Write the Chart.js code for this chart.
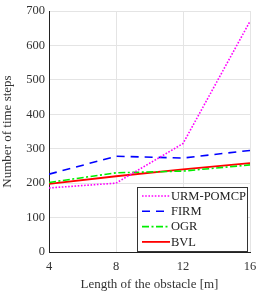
<!DOCTYPE html>
<html><head><meta charset="utf-8">
<script src="https://cdn.jsdelivr.net/npm/chart.js@4"></script>
<style>html,body{margin:0;padding:0;background:#fff}#w{width:259px;height:292px}</style>
</head><body><div id="w"><canvas id="c"></canvas></div>
<script>
const categories = [4, 8, 12, 16];
const urmPomcp = [186, 200, 315, 670];
const firm = [226, 278, 273, 295];
const ogr = [202, 230, 235, 253];
const bvl = [198, 220, 240, 258];
const yTicks = [0, 100, 200, 300, 400, 500, 600, 700];
const seriesNames = ['URM-POMCP', 'FIRM', 'OGR', 'BVL'];

const FONT = "'Liberation Serif', 'DejaVu Serif', serif";
const mk = (vals) => categories.map((x, i) => ({x, y: vals[i]}));

const legendBox = {
  id: 'legendBox',
  afterDraw(chart) {
    const {ctx, chartArea} = chart;
    const w = 110, h = 64;
    const x0 = chartArea.right - w - 3, y0 = chartArea.bottom - h - 1;
    ctx.save();
    ctx.fillStyle = '#fff';
    ctx.fillRect(x0, y0, w, h);
    ctx.strokeStyle = '#333';
    ctx.lineWidth = 1;
    ctx.strokeRect(x0 + 0.5, y0 + 0.5, w, h);
    ctx.font = "12.5px " + FONT;
    ctx.textBaseline = 'middle';
    chart.data.datasets.forEach((ds, i) => {
      const y = y0 + 9 + i * 15.3;
      ctx.beginPath();
      ctx.setLineDash(ds.borderDash || []);
      ctx.strokeStyle = ds.borderColor;
      ctx.lineWidth = ds.borderWidth;
      ctx.moveTo(x0 + 5, y);
      ctx.lineTo(x0 + 33, y);
      ctx.stroke();
      ctx.setLineDash([]);
      ctx.fillStyle = '#222';
      ctx.fillText(ds.label, x0 + 34, y + 0.5);
    });
    ctx.restore();
  }
};

new Chart(document.getElementById('c'), {
  type: 'line',
  data: {
    datasets: [
      {label: seriesNames[0], data: mk(urmPomcp), borderColor: '#ff00ff', borderWidth: 1.6, borderDash: [1.6, 1.6]},
      {label: seriesNames[1], data: mk(firm), borderColor: '#0000ff', borderWidth: 1.6, borderDash: [8, 6]},
      {label: seriesNames[2], data: mk(ogr), borderColor: '#00ee00', borderWidth: 1.6, borderDash: [7, 2.5, 2, 2.5]},
      {label: seriesNames[3], data: mk(bvl), borderColor: '#ff0000', borderWidth: 1.8}
    ].map(d => Object.assign(d, {pointRadius: 0, fill: false, tension: 0}))
  },
  options: {
    responsive: true, maintainAspectRatio: false, animation: false,
    layout: {padding: {top: 11, right: 9, left: 0, bottom: 0}},
    plugins: {legend: {display: false}, tooltip: {enabled: false}},
    scales: {
      x: {
        type: 'linear', min: 4, max: 16,
        afterBuildTicks: s => { s.ticks = categories.map(v => ({value: v})); },
        afterFit: s => { s.height = 40; s.paddingRight = 0; s.paddingLeft = 0; },
        grid: {color: '#e4e4e4', drawTicks: false},
        border: {color: '#222', width: 1},
        ticks: {color: '#333', font: {family: FONT, size: 12.5}, padding: 7, maxRotation: 0},
        title: {display: true, text: 'Length of the obstacle [m]', color: '#333', font: {family: FONT, size: 13}, padding: {top: 1, bottom: 0}}
      },
      y: {
        min: 0, max: 700,
        afterBuildTicks: s => { s.ticks = yTicks.map(v => ({value: v})); },
        afterFit: s => { s.width = 49; s.paddingTop = 0; s.paddingBottom = 0; },
        grid: {color: '#e4e4e4', drawTicks: false},
        border: {color: '#222', width: 1},
        ticks: {color: '#333', font: {family: FONT, size: 12.5}, padding: 4},
        title: {display: true, text: 'Number of time steps', color: '#333', font: {family: FONT, size: 13}, padding: {top: 0, bottom: 2}}
      }
    }
  },
  plugins: [legendBox]
});
</script>
</body></html>
